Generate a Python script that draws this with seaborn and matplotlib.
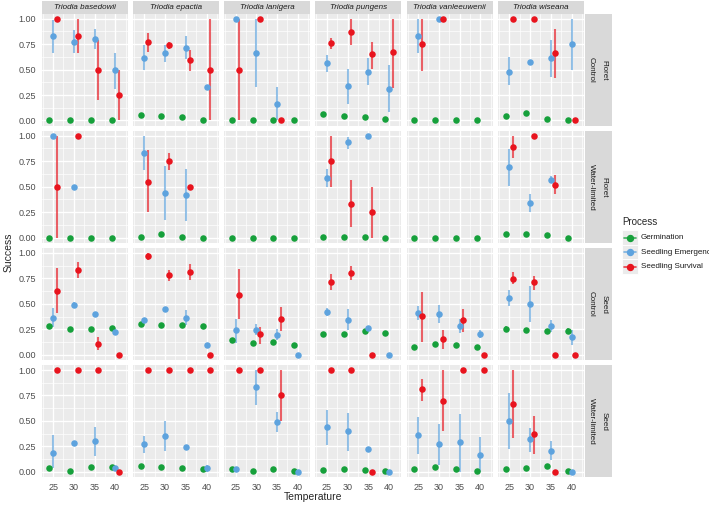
import numpy as np
import pandas as pd
import matplotlib
matplotlib.use("Agg")
import matplotlib.pyplot as plt
import seaborn as sns
from matplotlib.patches import Rectangle
from matplotlib.lines import Line2D
from matplotlib.ticker import MultipleLocator

nan = np.nan

# ==============================
# DATA
# ==============================
species = ["Triodia basedowii", "Triodia epactia", "Triodia lanigera",
           "Triodia pungens", "Triodia vanleeuwenii", "Triodia wiseana"]
row_parts = ["Floret", "Floret", "Seed", "Seed"]
row_treat = ["Control", "Water-limited", "Control", "Water-limited"]
temps = [25, 30, 35, 40]
processes = ["Germination", "Seedling Emergence", "Seedling Survival"]

# [row][species][temperature]
germ_mean = [
    [[0, 0, 0, 0], [0.05, 0.04, 0.03, 0], [0, 0, 0, 0], [0.06, 0.04, 0.03, 0.01], [0, 0, 0, 0], [0.04, 0.07, 0.01, 0]],
    [[0, 0, 0, 0], [0.01, 0.04, 0.01, 0], [0, 0, 0, 0], [0.01, 0.01, 0.01, 0], [0, 0, 0, 0], [0.04, 0.04, 0.03, 0]],
    [[0.28, 0.25, 0.25, 0.26], [0.30, 0.29, 0.29, 0.28], [0.14, 0.12, 0.13, 0.10], [0.20, 0.20, 0.23, 0.21], [0.08, 0.11, 0.10, 0.08], [0.25, 0.24, 0.23, 0.23]],
    [[0.04, 0.01, 0.05, 0.05], [0.06, 0.05, 0.04, 0.03], [0.03, 0.01, 0.03, 0.01], [0.02, 0.03, 0.02, 0.01], [0.03, 0.05, 0.03, 0.01], [0.03, 0.04, 0.06, 0.01]],
]
germ_lo = [[[nan] * 4] * 6] * 2 + [
    [[nan] * 4] * 5 + [[0.22, nan, nan, 0.21]],
    [[nan] * 4] * 6,
]
germ_hi = [[[nan] * 4] * 6] * 2 + [
    [[nan] * 4] * 5 + [[0.28, nan, nan, 0.26]],
    [[nan] * 4] * 6,
]

emerg_mean = [
    [[0.83, 0.77, 0.80, 0.50], [0.61, 0.66, 0.71, 0.33], [1.0, 0.66, 0.16, nan], [0.56, 0.34, 0.48, 0.31], [0.83, 1.0, nan, nan], [0.48, 0.57, 0.61, 0.75]],
    [[1.0, 0.5, nan, nan], [0.83, 0.44, 0.42, nan], [nan, nan, nan, nan], [0.59, 0.94, 1.0, nan], [nan, nan, nan, nan], [0.69, 0.34, 0.57, nan]],
    [[0.36, 0.49, 0.40, 0.22], [0.34, 0.45, 0.36, 0.10], [0.24, 0.24, 0.19, 0.0], [0.42, 0.34, 0.26, 0.0], [0.41, 0.40, 0.28, 0.20], [0.56, 0.50, 0.28, 0.17]],
    [[0.19, 0.28, 0.30, 0.04], [0.27, 0.35, 0.24, 0.04], [0.03, 0.83, 0.49, 0.0], [0.44, 0.40, 0.22, 0.0], [0.36, 0.27, 0.29, 0.17], [0.50, 0.32, 0.21, 0.0]],
]
emerg_lo = [
    [[0.66, 0.66, 0.70, 0.31], [0.50, 0.57, 0.60, nan], [nan, 0.33, 0.0, nan], [0.48, 0.16, 0.35, 0.08], [0.66, nan, nan, nan], [0.35, nan, 0.43, 0.50]],
    [[nan, nan, nan, nan], [0.66, 0.17, 0.16, nan], [nan, nan, nan, nan], [0.50, 0.87, nan, nan], [nan, nan, nan, nan], [0.51, 0.25, 0.54, nan]],
    [[0.27, 0.47, nan, nan], [nan, nan, 0.29, nan], [0.12, 0.19, 0.14, nan], [0.38, 0.24, nan, nan], [0.34, 0.31, 0.21, 0.16], [0.48, 0.32, 0.22, 0.10]],
    [[0.04, nan, 0.16, nan], [0.19, 0.21, nan, 0.0], [nan, 0.66, 0.39, nan], [0.26, 0.21, nan, nan], [0.18, 0.07, 0.0, 0.0], [0.22, 0.20, 0.12, nan]],
]
emerg_hi = [
    [[0.99, 0.89, 0.90, 0.66], [0.74, 0.74, 0.83, nan], [nan, 1.0, 0.33, nan], [0.64, 0.51, 0.61, 0.54], [1.0, nan, nan, nan], [0.62, nan, 0.79, 1.0]],
    [[nan, nan, nan, nan], [1.0, 0.70, 0.67, nan], [nan, nan, nan, nan], [0.67, 0.99, nan, nan], [nan, nan, nan, nan], [0.87, 0.43, 0.60, nan]],
    [[0.46, 0.52, nan, nan], [nan, nan, 0.44, nan], [0.35, 0.30, 0.25, nan], [0.46, 0.45, nan, nan], [0.48, 0.49, 0.35, 0.24], [0.64, 0.67, 0.34, 0.24]],
    [[0.36, nan, 0.44, nan], [0.35, 0.50, nan, 0.07], [nan, 1.0, 0.59, nan], [0.61, 0.58, nan, nan], [0.54, 0.47, 0.57, 0.34], [0.77, 0.43, 0.30, nan]],
]

surv_mean = [
    [[1.0, 0.83, 0.5, 0.25], [0.77, 0.74, 0.59, 0.5], [0.5, 1.0, 0.0, nan], [0.76, 0.87, 0.65, 0.67], [0.75, 1.0, nan, nan], [1.0, 1.0, 0.66, 0.0]],
    [[0.5, 1.0, nan, nan], [0.55, 0.75, 0.5, nan], [nan, nan, nan, nan], [0.75, 0.33, 0.25, nan], [nan, nan, nan, nan], [0.89, 1.0, 0.52, nan]],
    [[0.63, 0.83, 0.11, 0.0], [0.97, 0.78, 0.81, 0.0], [0.59, 0.20, 0.35, nan], [0.71, 0.80, 0.0, nan], [0.38, 0.15, 0.34, 0.0], [0.74, 0.71, 0.0, 0.0]],
    [[1.0, 1.0, 1.0, 0.0], [1.0, 1.0, 1.0, 1.0], [1.0, 1.0, 0.75, nan], [1.0, 1.0, 0.0, nan], [0.81, 0.70, 1.0, 1.0], [0.67, 0.37, 0.0, nan]],
]
surv_lo = [
    [[nan, 0.66, 0.20, 0.0], [0.67, 0.70, 0.49, 0.0], [0.0, nan, nan, nan], [0.70, 0.74, 0.51, 0.32], [0.49, nan, nan, nan], [nan, nan, 0.42, nan]],
    [[0.0, nan, nan, nan], [0.25, 0.66, nan, nan], [nan, nan, nan, nan], [0.50, 0.10, 0.0, nan], [nan, nan, nan, nan], [0.78, nan, 0.43, nan]],
    [[0.41, 0.75, 0.05, nan], [0.93, 0.72, 0.73, nan], [0.35, 0.11, 0.23, nan], [0.64, 0.73, nan, nan], [0.13, 0.06, 0.22, nan], [0.69, 0.64, nan, nan]],
    [[nan, nan, nan, nan], [nan, nan, nan, nan], [nan, nan, 0.50, nan], [nan, nan, nan, nan], [0.70, 0.40, nan, nan], [0.33, 0.18, nan, nan]],
]
surv_hi = [
    [[nan, 1.0, 0.79, 0.5], [0.86, 0.77, 0.69, 1.0], [1.0, nan, nan, nan], [0.81, 1.0, 0.77, 1.0], [1.0, nan, nan, nan], [nan, nan, 0.90, nan]],
    [[1.0, nan, nan, nan], [0.86, 0.83, nan, nan], [nan, nan, nan, nan], [1.0, 0.57, 0.5, nan], [nan, nan, nan, nan], [1.0, nan, 0.61, nan]],
    [[0.85, 0.91, 0.17, nan], [1.0, 0.83, 0.89, nan], [0.84, 0.27, 0.47, nan], [0.79, 0.87, nan, nan], [0.62, 0.24, 0.45, nan], [0.81, 0.77, nan, nan]],
    [[nan, nan, nan, nan], [nan, nan, nan, nan], [nan, nan, 1.0, nan], [nan, nan, nan, nan], [0.91, 1.0, nan, nan], [1.0, 0.55, nan, nan]],
]

colors = ["#16A03B", "#5EA3DE", "#E8141E"]
offsets = [-0.9, 0.0, 0.9]

# ==============================
# LONG TABLE
# ==============================
records = []
tables = [(germ_mean, germ_lo, germ_hi), (emerg_mean, emerg_lo, emerg_hi), (surv_mean, surv_lo, surv_hi)]
for p, (m, lo, hi) in enumerate(tables):
    for r in range(4):
        for s in range(6):
            for t in range(4):
                if np.isnan(m[r][s][t]):
                    continue
                records.append({
                    "Row": row_parts[r] + "\n" + row_treat[r],
                    "Species": species[s],
                    "Temperature": temps[t],
                    "Process": processes[p],
                    "Success": m[r][s][t],
                    "lo": lo[r][s][t],
                    "hi": hi[r][s][t],
                })
df = pd.DataFrame(records)
row_names = [a + "\n" + b for a, b in zip(row_parts, row_treat)]

# ==============================
# PLOT
# ==============================
sns.set_theme(style="darkgrid")
plt.rcParams["font.family"] = ["Liberation Sans", "DejaVu Sans"]
plt.rcParams["axes.facecolor"] = "#EBEBEB"
plt.rcParams["grid.color"] = "white"


def draw_panel(data, **kws):
    ax = plt.gca()
    for i, proc in enumerate(processes):
        d = data[data["Process"] == proc]
        x = d["Temperature"] + offsets[i]
        ax.vlines(x, d["lo"], d["hi"], color=colors[i], lw=1.5, alpha=0.65, zorder=2)
        ax.scatter(x, d["Success"], s=22, color=colors[i], zorder=3, linewidths=0)


g = sns.FacetGrid(df, row="Row", col="Species", row_order=row_names, col_order=species,
                  sharex=True, sharey=True, height=1.2, aspect=0.8, despine=False)
g.map_dataframe(draw_panel)
g.figure.set_size_inches(7.09, 5.05)
g.figure.subplots_adjust(left=41.5 / 709, right=584 / 709, top=1 - 14 / 505,
                         bottom=1 - 477 / 505, wspace=0.058, hspace=0.05)
g.set_titles("")
g.set_axis_labels("", "")

for r in range(4):
    for c in range(6):
        ax = g.axes[r, c]
        ax.set_xlim(22.2, 43.0)
        ax.set_ylim(-0.05, 1.045)
        ax.set_xticks(temps)
        ax.set_yticks([0, 0.25, 0.5, 0.75, 1.0])
        ax.xaxis.set_minor_locator(MultipleLocator(2.5))
        ax.yaxis.set_minor_locator(MultipleLocator(0.125))
        ax.grid(which="major", color="white", lw=1.0)
        ax.grid(which="minor", color="white", lw=0.5)
        for sp in ax.spines.values():
            sp.set_visible(False)
        ax.tick_params(which="minor", length=0)
        ax.tick_params(which="major", length=2.5, width=0.6, color="#333333",
                       labelsize=6.5, labelcolor="#4D4D4D", pad=1.5)
        if c == 0:
            ax.set_yticklabels(["0.00", "0.25", "0.50", "0.75", "1.00"])
        else:
            ax.tick_params(axis="y", left=False, labelleft=False)
        if r == 3:
            ax.set_xticklabels([str(t) for t in temps])
        else:
            ax.tick_params(axis="x", bottom=False, labelbottom=False)
        ax.set_axisbelow(True)

# top strips
for c, name in enumerate(species):
    ax = g.axes[0, c]
    ax.add_patch(Rectangle((0, 1.0), 1, 0.12, transform=ax.transAxes, facecolor="#D9D9D9",
                           edgecolor="none", clip_on=False))
    ax.text(0.5, 1.06, name, transform=ax.transAxes, ha="center", va="center",
            fontsize=5.8, style="italic", color="#1A1A1A")

# right strips
for r in range(4):
    ax = g.axes[r, 5]
    ax.add_patch(Rectangle((1.01, 0), 0.31, 1, transform=ax.transAxes, facecolor="#D9D9D9",
                           edgecolor="none", clip_on=False))
    ax.text(1.085, 0.5, row_treat[r], transform=ax.transAxes, ha="center", va="center",
            rotation=-90, fontsize=5.8, color="#1A1A1A")
    ax.text(1.235, 0.5, row_parts[r], transform=ax.transAxes, ha="center", va="center",
            rotation=-90, fontsize=5.8, color="#1A1A1A")

fig = g.figure
fig.text(313 / 709, 1 - 497 / 505, "Temperature", ha="center", va="center", fontsize=7.5)
fig.text(9 / 709, 0.5, "Success", ha="center", va="center", rotation=90, fontsize=7.5)

# legend with grey key boxes
fig.text(622 / 709, 1 - 222 / 505, "Process", ha="left", va="center", fontsize=7)
key_y = [237.5, 252.0, 266.5]
for i, proc in enumerate(processes):
    yf = 1 - key_y[i] / 505
    fig.patches.append(Rectangle((622 / 709, yf - 7.2 / 505), 16 / 709, 14.4 / 505,
                                 transform=fig.transFigure, facecolor="#EBEBEB",
                                 edgecolor="white", lw=0.6))
    fig.add_artist(Line2D([624 / 709, 636 / 709], [yf, yf], color=colors[i], lw=1.2,
                          alpha=0.8, transform=fig.transFigure))
    fig.add_artist(Line2D([630 / 709], [yf], color=colors[i], marker="o", ms=4.3, lw=0,
                          transform=fig.transFigure))
    fig.text(641 / 709, yf, proc, ha="left", va="center", fontsize=5.8, color="#1A1A1A")

fig.savefig("out.png", dpi=100)
